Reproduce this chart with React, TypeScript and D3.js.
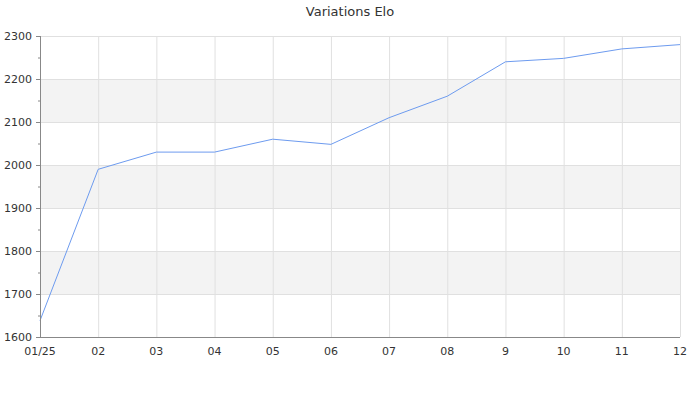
import React from "react";
import * as d3 from "d3";

const labels = ["01/25", "02", "03", "04", "05", "06", "07", "08", "9", "10", "11", "12"];
const values = [1638, 1990, 2030, 2030, 2060, 2048, 2110, 2160, 2240, 2248, 2270, 2280];
const yTicks = [1600, 1700, 1800, 1900, 2000, 2100, 2200, 2300];
const bands = [[1700, 1800], [1900, 2000], [2100, 2200]];
const title = "Variations Elo";

export default function App() {
  const W = 700, H = 400;
  const left = 40, right = 680, top = 36, bottom = 337;
  const x = d3.scalePoint<string>().domain(labels).range([left, right]);
  const y = d3.scaleLinear().domain([1600, 2300]).range([bottom, top]);
  const line = d3.line<number>().x((_, i) => x(labels[i])!).y((d) => y(d));
  const minor = d3.range(1650, 2300, 100);
  const font = "DejaVu Sans, sans-serif";
  return (
    <svg width={W} height={H} style={{ position: "absolute", left: 0, top: 0 }} fontFamily={font}>
      <rect width={W} height={H} fill="#fff" />
      <text x={350} y={16} textAnchor="middle" fontSize={13} fill="#333">{title}</text>
      {bands.map(([a, b]) => (
        <rect key={a} x={left} y={y(b)} width={right - left} height={y(a) - y(b)} fill="#f3f3f3" />
      ))}
      {yTicks.map((t) => (
        <line key={"h" + t} x1={left} x2={right} y1={y(t) + 0.5} y2={y(t) + 0.5} stroke="#e0e0e0" />
      ))}
      {labels.map((l) => (
        <line key={"v" + l} x1={x(l)! + 0.5} x2={x(l)! + 0.5} y1={top} y2={bottom} stroke="#e0e0e0" />
      ))}
      <path d={line(values)!} fill="none" stroke="#6d9bef" strokeWidth={1} />
      <line x1={left + 0.5} x2={left + 0.5} y1={top} y2={bottom} stroke="#888" />
      <line x1={left} x2={right} y1={bottom + 0.5} y2={bottom + 0.5} stroke="#888" />
      {yTicks.map((t) => (
        <g key={"yt" + t}>
          <line x1={left - 4} x2={left} y1={y(t) + 0.5} y2={y(t) + 0.5} stroke="#888" />
          <text x={left - 8} y={y(t)} dy="0.35em" textAnchor="end" fontSize={11} fill="#333">{t}</text>
        </g>
      ))}
      {minor.map((t) => (
        <line key={"m" + t} x1={left - 2} x2={left} y1={y(t) + 0.5} y2={y(t) + 0.5} stroke="#888" />
      ))}
      {labels.map((l) => (
        <text key={"xl" + l} x={x(l)} y={bottom + 18} textAnchor="middle" fontSize={11} fill="#333">{l}</text>
      ))}
    </svg>
  );
}
